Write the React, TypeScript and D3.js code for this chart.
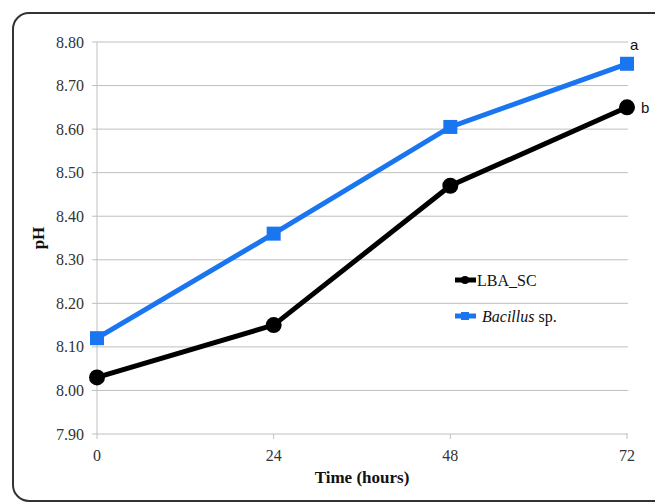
import React from "react";
import * as d3 from "d3";

const categories = ["0", "24", "48", "72"];
const lbaValues = [8.03, 8.15, 8.47, 8.65];
const bacillusValues = [8.12, 8.36, 8.605, 8.75];
const yTicks = [7.9, 8.0, 8.1, 8.2, 8.3, 8.4, 8.5, 8.6, 8.7, 8.8];
const endLabels = ["b", "a"];

const W = 655;
const H = 502;

export default function App() {
  const x = d3.scalePoint<string>().domain(categories).range([97, 627]);
  const y = d3.scaleLinear().domain([7.9, 8.8]).range([434, 42]);
  const line = d3
    .line<number>()
    .x((_, i) => x(categories[i]) as number)
    .y((d) => y(d));
  const serif = "'Liberation Serif', 'Times New Roman', serif";
  const sans = "'Liberation Sans', Arial, sans-serif";
  const grid = "#bfbfbf";
  const blue = "#1a75f0";
  return (
    <svg
      width={W}
      height={H}
      style={{ position: "absolute", left: 0, top: 0, background: "#fff" }}
    >
      <rect x={13} y={13} width={700} height={488} rx={16} fill="#fff" stroke="#333" strokeWidth={2} />
      {yTicks.map((t) => (
        <g key={t}>
          <line x1={92} x2={628} y1={y(t)} y2={y(t)} stroke={grid} strokeWidth={1} />
          <text x={84} y={y(t)} dy="0.35em" textAnchor="end" fontFamily={serif} fontSize={16} fill="#333">
            {t.toFixed(2)}
          </text>
        </g>
      ))}
      <line x1={97} x2={97} y1={42} y2={434} stroke={grid} strokeWidth={1} />
      {categories.map((c) => (
        <g key={c}>
          <line x1={x(c)} x2={x(c)} y1={434} y2={439} stroke={grid} strokeWidth={1} />
          <text x={x(c)} y={455} dy="0.35em" textAnchor="middle" fontFamily={serif} fontSize={16} fill="#333">
            {c}
          </text>
        </g>
      ))}
      <path d={line(lbaValues) || ""} fill="none" stroke="#000" strokeWidth={5} />
      <path d={line(bacillusValues) || ""} fill="none" stroke={blue} strokeWidth={5} />
      {lbaValues.map((v, i) => (
        <circle key={i} cx={x(categories[i])} cy={y(v)} r={8} fill="#000" />
      ))}
      {bacillusValues.map((v, i) => (
        <rect key={i} x={(x(categories[i]) as number) - 7} y={y(v) - 7} width={14} height={14} fill={blue} />
      ))}
      <text x={641} y={y(lbaValues[3])} dy="0.35em" fontFamily={sans} fontSize={15} fill="#111">
        {endLabels[0]}
      </text>
      <text x={630} y={y(bacillusValues[3]) - 19} dy="0.35em" fontFamily={sans} fontSize={15} fill="#111">
        {endLabels[1]}
      </text>
      <g>
        <line x1={455} x2={476} y1={280} y2={280} stroke="#000" strokeWidth={5} />
        <circle cx={465} cy={280} r={4} fill="#000" />
        <text x={477} y={280} dy="0.35em" fontFamily={serif} fontSize={16} fill="#111">LBA_SC</text>
        <line x1={455} x2={476} y1={316} y2={316} stroke={blue} strokeWidth={5} />
        <rect x={461} y={312} width={8} height={8} fill={blue} />
        <text x={482} y={316} dy="0.35em" fontFamily={serif} fontSize={16} fill="#111">
          <tspan fontStyle="italic">Bacillus</tspan>
          <tspan> sp.</tspan>
        </text>
      </g>
      <text
        transform="translate(44,238) rotate(-90)"
        textAnchor="middle"
        fontFamily={serif}
        fontSize={17}
        fontWeight="bold"
        fill="#111"
      >
        pH
      </text>
      <text x={362} y={477} dy="0.35em" textAnchor="middle" fontFamily={serif} fontSize={17} fontWeight="bold" fill="#111">
        Time (hours)
      </text>
    </svg>
  );
}
